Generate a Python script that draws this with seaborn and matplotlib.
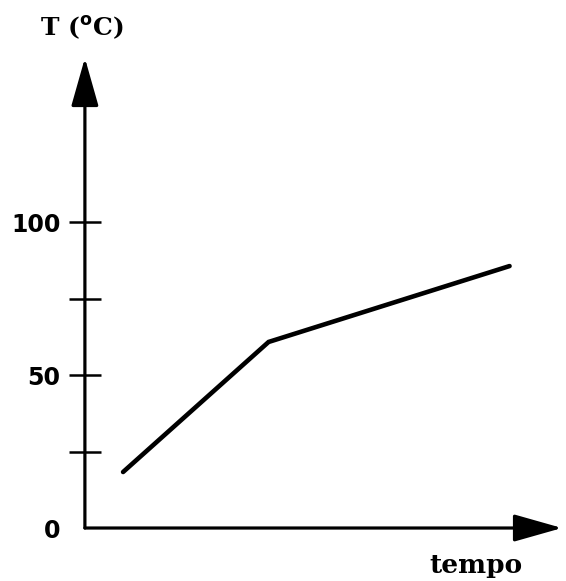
import seaborn as sns
import matplotlib.pyplot as plt

# temperature vs time (arbitrary time units)
tempo = [0.8, 3.85, 8.9]
temperatura = [18.3, 60.8, 85.6]
y_ticks = [0, 25, 50, 75, 100]
y_labels = ["0", "", "50", "", "100"]

sns.set_style("white")
plt.rcParams["text.color"] = "black"
plt.rcParams["ytick.color"] = "black"

fig = plt.figure(figsize=(5.66, 5.81), dpi=100)
ax = fig.add_axes([0.150, 0.0912, 0.843, 0.809])

sns.lineplot(x=tempo, y=temperatura, color="black", linewidth=3.3, ax=ax,
             solid_capstyle="round", solid_joinstyle="miter")

ax.set_xlim(0, 10)
ax.set_ylim(0, 153.6)

for side in ["top", "right", "left", "bottom"]:
    ax.spines[side].set_visible(False)

# axes drawn as arrows
arrow = dict(arrowstyle="-|>,head_length=3.0,head_width=0.85", lw=2.3,
             color="black", mutation_scale=10, shrinkA=0, shrinkB=0)
ax.annotate("", xy=(0, 1), xycoords="axes fraction", xytext=(0, 0),
            arrowprops=arrow, annotation_clip=False)
ax.annotate("", xy=(1.0, 0), xycoords="axes fraction", xytext=(0, 0),
            arrowprops=arrow, annotation_clip=False)

ax.set_xticks([])
ax.set_yticks(y_ticks)
ax.set_yticklabels(y_labels, fontsize=17, fontweight="bold", family="DejaVu Sans",
                   color="black")
ax.tick_params(axis="y", direction="inout", length=23, width=1.8, color="black",
               left=True, pad=6)
ax.yaxis.get_major_ticks()[0].tick1line.set_visible(False)

fig.text(0.145, 0.952, "T ($^{\\mathbf{o}}$C)", fontsize=18, fontweight="bold",
         family="DejaVu Serif", ha="center", va="center", color="black")
fig.text(0.84, 0.026, "tempo", fontsize=19, fontweight="bold",
         family="DejaVu Serif", ha="center", va="center", color="black")

fig.savefig("out.png", dpi=100)
